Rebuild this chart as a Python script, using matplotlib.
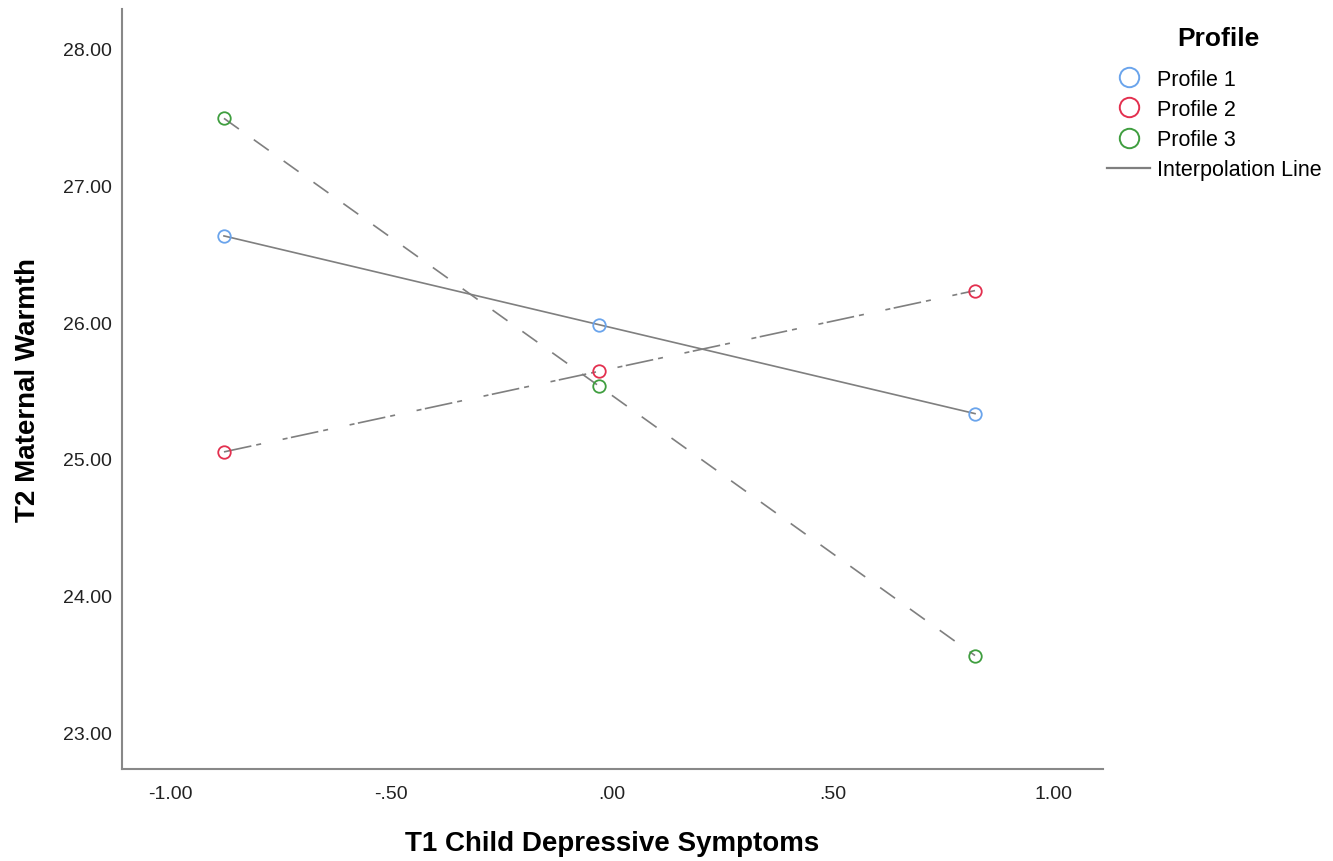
import matplotlib
matplotlib.use("Agg")
import matplotlib.pyplot as plt
from matplotlib.lines import Line2D

plt.rcParams['font.family'] = ['Liberation Sans', 'DejaVu Sans']

x_vals = [-0.878, -0.028, 0.823]
profile1 = [26.63, 25.98, 25.33]
profile2 = [25.05, 25.64, 26.23]
profile3 = [27.49, 25.53, 23.56]
profile_names = ["Profile 1", "Profile 2", "Profile 3"]
colors = ["#6aa4ec", "#e3304f", "#3f9e3f"]
xticks = [-1.0, -0.5, 0.0, 0.5, 1.0]
xtick_labels = ["-1.00", "-.50", ".00", ".50", "1.00"]
yticks = [23, 24, 25, 26, 27, 28]
ytick_labels = ["23.00", "24.00", "25.00", "26.00", "27.00", "28.00"]

fig = plt.figure(figsize=(13.33, 8.62), dpi=100)
ax = fig.add_axes([0.0915, 0.1067, 0.736, 0.8817])

line_color = "#7f7f7f"
series = [profile1, profile2, profile3]
styles = [dict(linestyle='-'),
          dict(dashes=(16.8, 3, 3, 13.2, 3, 2.1)),
          dict(dashes=(11, 11))]
for ys, st in zip(series, styles):
    ax.plot(x_vals, ys, color=line_color, lw=1.2, zorder=2, **st)
for ys, c in zip(series, colors):
    ax.plot(x_vals, ys, linestyle='none', marker='o', markersize=9,
            markerfacecolor='none', markeredgecolor=c, markeredgewidth=1.3, zorder=3)

ax.set_xlim(-1.109, 1.113)
ax.set_ylim(22.73, 28.29)
ax.set_xticks(xticks)
ax.set_xticklabels(xtick_labels)
ax.set_yticks(yticks)
ax.set_yticklabels(ytick_labels)
ax.tick_params(length=0, labelsize=14, colors="#222222")
ax.tick_params(axis='x', pad=11.5)
ax.tick_params(axis='y', pad=7)
for s in ['top', 'right']:
    ax.spines[s].set_visible(False)
for s in ['left', 'bottom']:
    ax.spines[s].set_color("#888888")
    ax.spines[s].set_linewidth(1.5)

ax.set_xlabel("T1 Child Depressive Symptoms", fontsize=20, fontweight='bold')
ax.set_ylabel("T2 Maternal Warmth", fontsize=20, fontweight='bold')
ax.xaxis.set_label_coords(0.5, -0.0973)
ax.xaxis.label.set_va('center')
ax.yaxis.set_label_coords(-0.096, 0.5)
ax.yaxis.label.set_va('center')

handles = [Line2D([], [], linestyle='none', marker='o', markersize=14,
                  markerfacecolor='none', markeredgecolor=c, markeredgewidth=1.4)
           for c in colors]
handles.append(Line2D([], [], color=line_color, lw=1.6))
labels = profile_names + ["Interpolation Line"]
leg = fig.legend(handles, labels, loc='upper left', bbox_to_anchor=(0.824, 0.9293),
                 frameon=False, fontsize=15.5,
                 handlelength=2.0, handletextpad=0.33, labelspacing=0.43,
                 borderaxespad=0)
fig.text(1218 / 1333, 1 - 39 / 862, "Profile", fontsize=19, fontweight='bold',
         ha='center', va='center')

fig.savefig("out.png", dpi=100)
